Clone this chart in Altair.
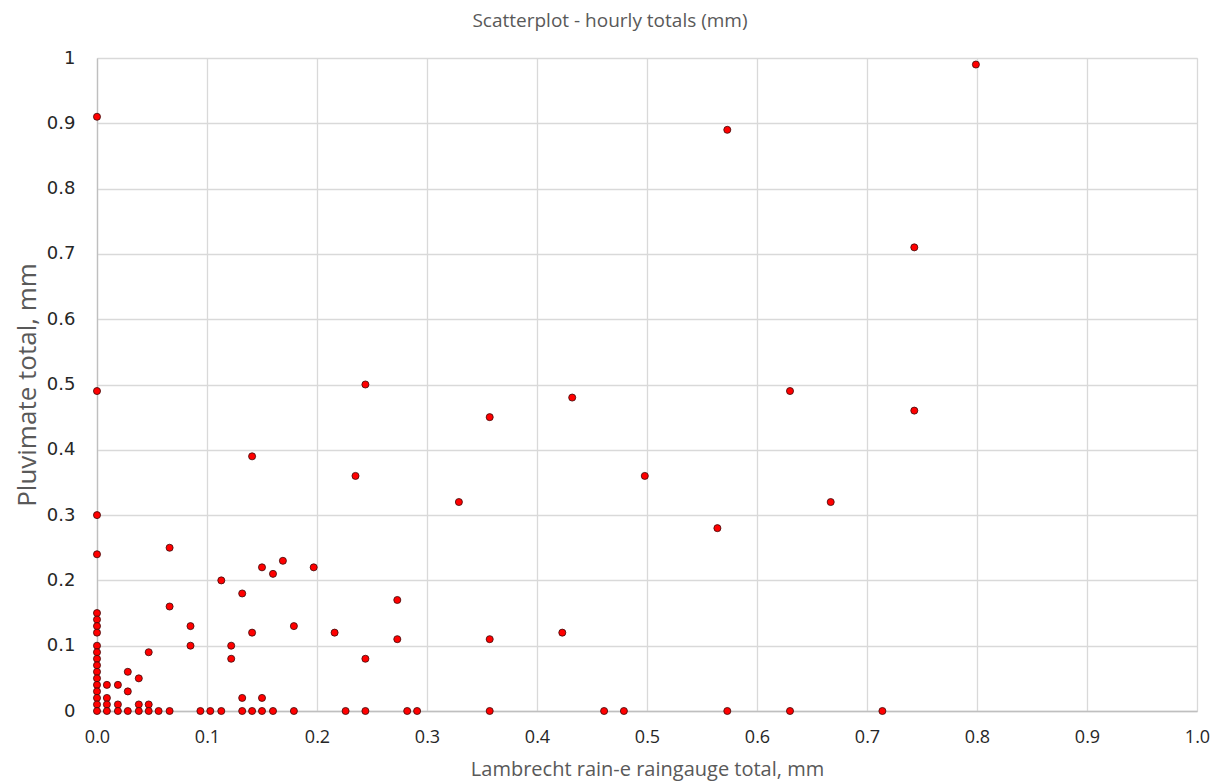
import altair as alt
import pandas as pd

# Lambrecht rain-e (x) vs Pluvimate (y) hourly totals, mm
lambrecht = [
    0, 0, 0, 0, 0, 0, 0, 0, 0, 0, 0, 0, 0, 0, 0, 0, 0, 0, 0,
    0.009, 0.009, 0.009, 0.009,
    0.019, 0.019, 0.019,
    0.028, 0.028, 0.028,
    0.038, 0.038, 0.038,
    0.047, 0.047, 0.047,
    0.056,
    0.066, 0.066, 0.066,
    0.085, 0.085,
    0.094,
    0.103,
    0.113, 0.113,
    0.122, 0.122,
    0.132, 0.132, 0.132,
    0.141, 0.141, 0.141,
    0.150, 0.150, 0.150,
    0.160, 0.160,
    0.169,
    0.179, 0.179,
    0.197,
    0.216,
    0.226,
    0.235,
    0.244, 0.244, 0.244,
    0.273, 0.273,
    0.282,
    0.291,
    0.329,
    0.357, 0.357, 0.357,
    0.423,
    0.432,
    0.461,
    0.479,
    0.498,
    0.564,
    0.573, 0.573,
    0.630, 0.630,
    0.667,
    0.714,
    0.743, 0.743,
    0.799,
]
pluvimate = [
    0.91, 0.49, 0.30, 0.24, 0.15, 0.14, 0.13, 0.12, 0.10, 0.09, 0.08, 0.07, 0.06, 0.05, 0.04, 0.03, 0.02, 0.01, 0.00,
    0.04, 0.02, 0.01, 0.00,
    0.04, 0.01, 0.00,
    0.06, 0.03, 0.00,
    0.05, 0.01, 0.00,
    0.09, 0.01, 0.00,
    0.00,
    0.25, 0.16, 0.00,
    0.13, 0.10,
    0.00,
    0.00,
    0.20, 0.00,
    0.10, 0.08,
    0.18, 0.02, 0.00,
    0.39, 0.12, 0.00,
    0.22, 0.02, 0.00,
    0.21, 0.00,
    0.23,
    0.13, 0.00,
    0.22,
    0.12,
    0.00,
    0.36,
    0.50, 0.08, 0.00,
    0.17, 0.11,
    0.00,
    0.00,
    0.32,
    0.45, 0.11, 0.00,
    0.12,
    0.48,
    0.00,
    0.00,
    0.36,
    0.28,
    0.89, 0.00,
    0.49, 0.00,
    0.32,
    0.00,
    0.71, 0.46,
    0.99,
]

x_ticks = [0.0, 0.1, 0.2, 0.3, 0.4, 0.5, 0.6, 0.7, 0.8, 0.9, 1.0]
y_ticks = [0, 0.1, 0.2, 0.3, 0.4, 0.5, 0.6, 0.7, 0.8, 0.9, 1]

df = pd.DataFrame({"x": lambrecht, "y": pluvimate})

chart = (
    alt.Chart(df)
    .mark_circle(size=50, fill="#ff0000", stroke="#3b0a0a", strokeWidth=0.8, opacity=1)
    .encode(
        x=alt.X(
            "x:Q",
            scale=alt.Scale(domain=[0, 1], nice=False, zero=True),
            axis=alt.Axis(
                title="Lambrecht rain-e raingauge total, mm",
                values=x_ticks,
                format=".1f",
                ticks=False,
                labelFlush=False,
                labelPadding=17,
                labelFont="Open Sans",
                labelFontSize=18,
                labelColor="#262626",
                titleFont="Open Sans",
                titleFontSize=20,
                titleFontWeight="normal",
                titleColor="#595959",
                titlePadding=13,
                domainColor="#bfbfbf",
                domainWidth=1.3,
                gridColor="#d9d9d9",
                gridWidth=1.3,
            ),
        ),
        y=alt.Y(
            "y:Q",
            scale=alt.Scale(domain=[0, 1], nice=False, zero=True),
            axis=alt.Axis(
                title="Pluvimate total, mm",
                values=y_ticks,
                format="~g",
                ticks=False,
                labelFlush=False,
                labelPadding=22,
                labelFont="DejaVu Sans",
                labelFontSize=18,
                labelColor="#262626",
                titleFont="Open Sans",
                titleFontSize=26,
                titleFontWeight="normal",
                titleColor="#595959",
                titlePadding=6,
                domainColor="#bfbfbf",
                domainWidth=1.3,
                gridColor="#d9d9d9",
                gridWidth=1.3,
            ),
        ),
    )
    .properties(
        width=1100,
        height=653,
        autosize=alt.AutoSizeParams(type="none"),
        padding={"left": 97, "top": 58, "right": 24, "bottom": 72},
        title=alt.TitleParams(
            "Scatterplot - hourly totals (mm)",
            font="Open Sans",
            fontSize=19,
            fontWeight="normal",
            color="#595959",
            anchor="middle",
            dx=-37,
            offset=18,
        ),
    )
    .configure_view(stroke=None)
    .configure(background="white")
)

chart.save("out.html", embed_options={"renderer": "svg", "actions": False})
